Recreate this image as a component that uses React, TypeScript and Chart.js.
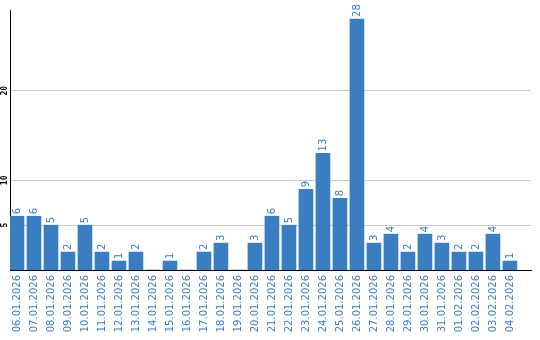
import React, { useEffect, useRef } from "react";
import { Chart, registerables } from "chart.js";

Chart.register(...registerables);

const dates = [
  "06.01.2026", "07.01.2026", "08.01.2026", "09.01.2026", "10.01.2026",
  "11.01.2026", "12.01.2026", "13.01.2026", "14.01.2026", "15.01.2026",
  "16.01.2026", "17.01.2026", "18.01.2026", "19.01.2026", "20.01.2026",
  "21.01.2026", "22.01.2026", "23.01.2026", "24.01.2026", "25.01.2026",
  "26.01.2026", "27.01.2026", "28.01.2026", "29.01.2026", "30.01.2026",
  "31.01.2026", "01.02.2026", "02.02.2026", "03.02.2026", "04.02.2026",
];
const counts = [6, 6, 5, 2, 5, 2, 1, 2, 0, 1, 0, 2, 3, 0, 3, 6, 5, 9, 13, 8, 28, 3, 4, 2, 4, 3, 2, 2, 4, 1];
const yTicks = [5, 10, 20];
const yMax = 29;

const BLUE = "#3b7dc1";

const valueLabels = {
  id: "valueLabels",
  afterDatasetsDraw(chart: any) {
    const ctx = chart.ctx;
    const meta = chart.getDatasetMeta(0);
    ctx.save();
    ctx.fillStyle = BLUE;
    ctx.font = "10px 'DejaVu Sans'";
    ctx.textAlign = "left";
    ctx.textBaseline = "middle";
    meta.data.forEach((bar: any, i: number) => {
      const v = counts[i];
      if (!v) return;
      ctx.save();
      ctx.translate(bar.x, bar.y - 2);
      ctx.rotate(-Math.PI / 2);
      ctx.fillText(String(v), 0, 0);
      ctx.restore();
    });
    ctx.restore();
  },
};

const yLabels = {
  id: "yLabels",
  afterDraw(chart: any) {
    const ctx = chart.ctx;
    const scale = chart.scales.y;
    ctx.save();
    ctx.fillStyle = "#000";
    ctx.font = "bold 8px 'DejaVu Sans Mono'";
    ctx.textAlign = "center";
    ctx.textBaseline = "middle";
    yTicks.forEach((t) => {
      ctx.save();
      ctx.translate(5, scale.getPixelForValue(t));
      ctx.rotate(-Math.PI / 2);
      ctx.fillText(String(t), 0, 0);
      ctx.restore();
    });
    ctx.restore();
  },
};

export default function App() {
  const ref = useRef<HTMLCanvasElement>(null);
  useEffect(() => {
    document.body.style.margin = "0";
    const chart = new Chart(ref.current!, {
      type: "bar",
      data: {
        datasets: [
          {
            data: counts.map((v, i) => ({ x: i, y: v })),
            backgroundColor: BLUE,
            barThickness: 14,
          },
        ],
      },
      options: {
        animation: false,
        responsive: false,
        layout: { padding: { top: 10, right: 9, left: 0, bottom: 0 } },
        plugins: { legend: { display: false }, tooltip: { enabled: false } },
        scales: {
          x: {
            type: "linear",
            min: -0.41,
            max: 30.24,
            offset: false,
            grid: { display: false, drawTicks: false },
            border: { display: true, color: "#000", width: 1 },
            afterBuildTicks: (s: any) => {
              s.ticks = dates.map((_, i) => ({ value: i }));
            },
            afterFit: (s: any) => {
              s.height = 70;
            },
            ticks: {
              autoSkip: false,
              minRotation: 90,
              maxRotation: 90,
              padding: 5,
              color: BLUE,
              font: { family: "'DejaVu Sans'", size: 10 },
              callback: (v: any) => dates[Math.round(Number(v))] ?? "",
            },
          },
          y: {
            min: 0,
            max: yMax,
            grid: { color: "#c8c8c8", drawTicks: false },
            border: { display: true, color: "#000", width: 1 },
            afterBuildTicks: (s: any) => {
              s.ticks = yTicks.map((v) => ({ value: v }));
            },
            afterFit: (s: any) => {
              s.width = 10;
            },
            ticks: { display: false },
          },
        },
      },
      plugins: [valueLabels, yLabels],
    });
    return () => chart.destroy();
  }, []);
  return (
    <div style={{ width: 540, height: 340 }}>
      <canvas ref={ref} width={540} height={340} />
    </div>
  );
}
